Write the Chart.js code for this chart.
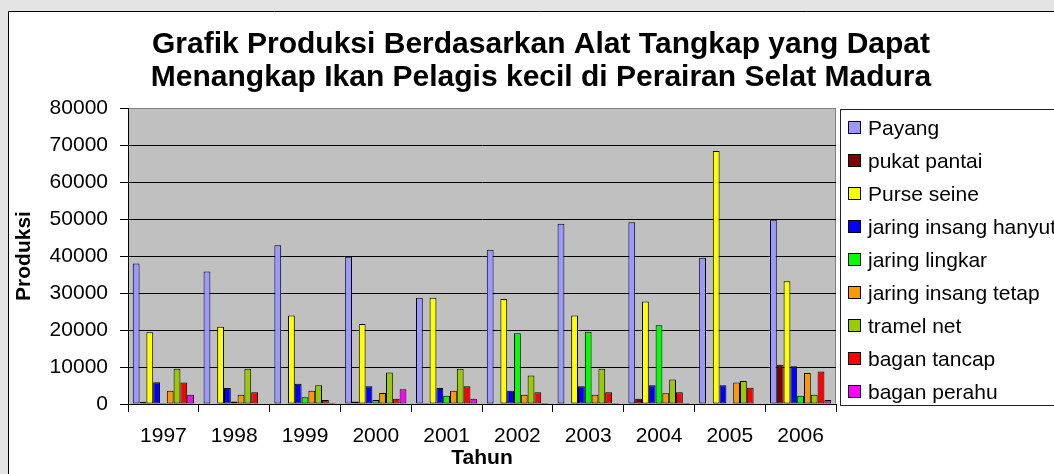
<!DOCTYPE html>
<html>
<head>
<meta charset="utf-8">
<script src="https://cdn.jsdelivr.net/npm/chart.js@4/dist/chart.umd.min.js"></script>
<style>
  html, body { margin: 0; padding: 0; overflow: hidden; background: #e4e4e4; }
  canvas { display: block; }
</style>
</head>
<body>
<canvas id="chart" width="1072" height="474"></canvas>
<script>
// data
const years = ["1997", "1998", "1999", "2000", "2001", "2002", "2003", "2004", "2005", "2006"];
const payang = [38000, 35800, 42900, 39800, 28700, 41700, 48700, 49100, 39500, 49800];
const pukatPantai = [600, 0, 0, 700, 300, 0, 0, 1450, 0, 10600];
const purseSeine = [19400, 20900, 23900, 21650, 28700, 28400, 23900, 27700, 68400, 33200];
const jaringInsangHanyut = [5900, 4300, 5500, 4800, 4300, 3600, 4800, 5100, 5100, 10200];
const jaringLingkar = [300, 700, 1800, 1100, 2200, 19100, 19500, 21300, 0, 2200];
const jaringInsangTetap = [3600, 2500, 3600, 3000, 3600, 2500, 2500, 2900, 5800, 8400];
const tramelNet = [9500, 9500, 5100, 8500, 9500, 7700, 9500, 6600, 6200, 2500];
const baganTancap = [5800, 3200, 1100, 1450, 4800, 3200, 3200, 3200, 4400, 8800];
const baganPerahu = [2500, 0, 350, 4000, 1400, 300, 300, 300, 0, 1100];
const yTicks = [0, 10000, 20000, 30000, 40000, 50000, 60000, 70000, 80000];

const FONT = "'Liberation Sans', Arial, sans-serif";
Chart.defaults.font.family = FONT;
Chart.defaults.color = "#000";

// frame, plot background and the legend box are drawn by hand
const frame = {
  id: "frame",
  beforeDraw(chart) {
    const { ctx, chartArea: a } = chart;
    ctx.save();
    ctx.fillStyle = "#e4e4e4";
    ctx.fillRect(0, 0, chart.width, chart.height);
    ctx.fillStyle = "#fff";
    ctx.fillRect(8, 11, chart.width, chart.height);
    ctx.strokeStyle = "#000";
    ctx.lineWidth = 1;
    ctx.beginPath();
    ctx.moveTo(8.5, chart.height);
    ctx.lineTo(8.5, 11.5);
    ctx.lineTo(chart.width, 11.5);
    ctx.stroke();
    ctx.fillStyle = "#c0c0c0";
    ctx.fillRect(a.left, a.top, a.right - a.left, a.bottom - a.top);
    ctx.strokeStyle = "#808080";
    ctx.strokeRect(a.left + 0.5, a.top + 0.5, a.right - a.left - 1, a.bottom - a.top);
    ctx.restore();
  },
  afterDraw(chart) {
    const { ctx } = chart;
    ctx.save();
    ctx.fillStyle = "#fff";
    ctx.fillRect(840.5, 109.5, chart.width, 296);
    ctx.strokeStyle = "#222";
    ctx.lineWidth = 1;
    ctx.strokeRect(840.5, 109.5, chart.width, 296);
    ctx.font = "21px " + FONT;
    ctx.textBaseline = "middle";
    chart.data.datasets.forEach((ds, i) => {
      const y = 128 + 33 * i;
      ctx.fillStyle = ds.backgroundColor;
      ctx.fillRect(848.5, y - 6.5, 12, 12);
      ctx.strokeStyle = "#000";
      ctx.strokeRect(848.5, y - 6.5, 12, 12);
      ctx.fillStyle = "#000";
      ctx.fillText(ds.label, 868, y + 1);
    });
    ctx.restore();
  },
};

const series = [
  ["Payang", payang, "#9999ff"],
  ["pukat pantai", pukatPantai, "#800000"],
  ["Purse seine", purseSeine, "#ffff00"],
  ["jaring insang hanyut", jaringInsangHanyut, "#0000ff"],
  ["jaring lingkar", jaringLingkar, "#00ff00"],
  ["jaring insang tetap", jaringInsangTetap, "#ff9900"],
  ["tramel net", tramelNet, "#99cc00"],
  ["bagan tancap", baganTancap, "#ff0000"],
  ["bagan perahu", baganPerahu, "#ff00ff"],
];

new Chart(document.getElementById("chart"), {
  type: "bar",
  data: {
    labels: years,
    datasets: series.map(([label, data, color]) => ({
      label,
      data,
      backgroundColor: color,
      borderColor: "#000",
      borderWidth: 1,
      borderSkipped: false,
      categoryPercentage: 0.865,
      barPercentage: 1.0,
    })),
  },
  options: {
    responsive: false,
    animation: false,
    devicePixelRatio: 1,
    layout: { padding: { left: 10, right: 0, top: 0, bottom: 0 } },
    plugins: {
      legend: { display: false },
      tooltip: { enabled: false },
      title: {
        display: true,
        text: [
          "Grafik Produksi Berdasarkan Alat Tangkap yang Dapat",
          "Menangkap Ikan Pelagis kecil di Perairan Selat Madura",
        ],
        font: { size: 30, weight: "bold", lineHeight: 1.1 },
        color: "#000",
        padding: { top: 28.5, bottom: 13.5 },
      },
    },
    scales: {
      x: {
        offset: true,
        afterFit: (s) => { s.height = 70; },
        grid: { offset: true, drawOnChartArea: false, drawTicks: true, tickLength: 8, color: "#000" },
        border: { display: true, color: "#000" },
        ticks: { font: { size: 21 }, padding: 12, color: "#000" },
        title: { display: true, text: "Tahun", font: { size: 21, weight: "bold" }, padding: { top: 0, bottom: 3 } },
      },
      y: {
        min: 0,
        max: 80000,
        afterFit: (s) => { s.width = 118; },
        afterBuildTicks: (s) => { s.ticks = yTicks.map((v) => ({ value: v })); },
        grid: {
          color: (c) => (c.tick && c.tick.value === 80000 ? "#808080" : "#000"),
          tickColor: "#000",
          tickLength: 8,
        },
        border: { display: true, color: "#000" },
        ticks: { font: { size: 21 }, padding: 12, color: "#000", callback: (v) => String(v) },
        title: { display: true, text: "Produksi", font: { size: 21, weight: "bold" }, padding: { top: 2, bottom: 0 } },
      },
      // empty axis that keeps the room where the legend sits
      y2: {
        position: "right",
        afterFit: (s) => { s.width = 236; },
        grid: { display: false },
        border: { display: false },
        ticks: { display: false },
      },
    },
  },
  plugins: [frame],
});
</script>
</body>
</html>
